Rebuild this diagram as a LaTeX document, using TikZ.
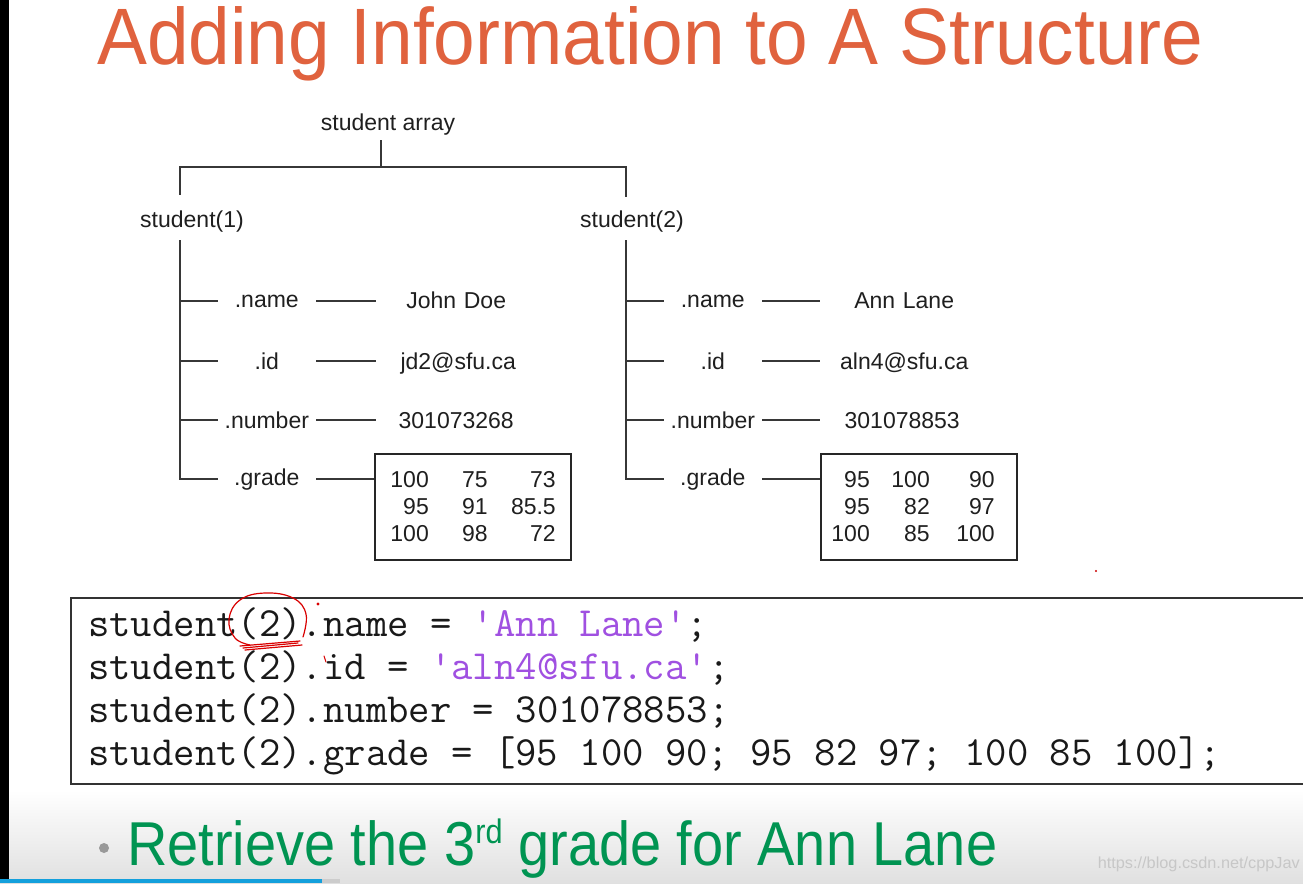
\documentclass[tikz,border=0pt]{standalone}
\usepackage{fontspec}
\setmainfont{Liberation Sans}
\usepackage{graphicx}
\definecolor{titlec}{RGB}{224,98,62}
\definecolor{greenc}{RGB}{0,148,82}
\definecolor{strc}{RGB}{160,80,225}
\definecolor{linec}{RGB}{55,55,55}
\definecolor{blueb}{RGB}{20,160,220}
\begin{document}
\begin{tikzpicture}[x=1pt,y=-1pt,
  treetxt/.style={font=\fontsize{23}{27}\selectfont, inner sep=0pt, text=black!88},
  field/.style={treetxt, anchor=base east, text width=98pt, align=center},
  val/.style={treetxt, anchor=base west, text width=160pt, align=center},
  conn/.style={draw=linec, line width=2pt},
  gbox/.style={treetxt, draw=black!85, line width=1.6pt, minimum height=106pt, anchor=north west, align=left, text width=196pt},
  codeline/.style={anchor=base west, inner sep=0pt, text=black!90, font=\ttfamily\fontsize{41.5}{43}\selectfont},
  redmark/.style={draw=red!85!black, line width=1.2pt, line cap=round}]
\clip (0,0) rectangle (1303,883);
\fill[white] (0,0) rectangle (1303,883);
\shade[top color=white, bottom color=black!12] (0,790) rectangle (1303,883);
\fill[black] (0,0) rectangle (9,883);
\fill[blueb] (0,879) rectangle (322,883);
\fill[black!20] (322,879) rectangle (340,883);

% title
\node[anchor=base west, inner sep=0pt, text=titlec, font=\fontsize{80}{86}\selectfont] (title) at (97,65)
  {\resizebox{1106pt}{\height}{Adding Information to A Structure}};

% tree
\node[treetxt, anchor=base] (sa) at (388,130) {student array};
\node[treetxt, anchor=base] (s1) at (192,227) {student(1)};
\node[treetxt, anchor=base] (s2) at (632,227) {student(2)};
\coordinate (j0) at (381,140);
\coordinate (jm) at (381,167);
\coordinate (jl) at (180,195);
\coordinate (jr) at (626,197);
\draw[conn] (j0) -- (jm) -| (jl);
\draw[conn] (jm) -| (jr);
\coordinate (t1) at (180,240);
\coordinate (t2) at (626,240);

% student 1
\node[field] (fa1) at (316,307) {.name};
\node[field] (fb1) at (316,369) {.id};
\node[field] (fc1) at (316,428) {.number};
\node[field] (fd1) at (316,485) {.grade};
\node[val] (va1) at (376,308) {John Doe};
\node[val] (vb1) at (378,369) {jd2@sfu.ca};
\node[val] (vc1) at (376,428) {301073268};
\node[gbox] (box1) at (374,453) {%
\makebox[54pt][r]{100}\makebox[59pt][r]{75}\makebox[68pt][r]{73}\\
\makebox[54pt][r]{95}\makebox[59pt][r]{91}\makebox[68pt][r]{85.5}\\
\makebox[54pt][r]{100}\makebox[59pt][r]{98}\makebox[68pt][r]{72}};
\draw[conn] (t1) |- (fd1.west);
\foreach \f in {fa1,fb1,fc1} \draw[conn] (\f.west) -- (\f.west -| t1);
\draw[conn] (fa1.east) -- (fa1.east -| va1.west);
\draw[conn] (fb1.east) -- (fb1.east -| va1.west);
\draw[conn] (fc1.east) -- (fc1.east -| va1.west);
\draw[conn] (fd1.east) -- (fd1.east -| box1.west);

% student 2
\node[field] (fa2) at (762,307) {.name};
\node[field] (fb2) at (762,369) {.id};
\node[field] (fc2) at (762,428) {.number};
\node[field] (fd2) at (762,485) {.grade};
\node[val] (va2) at (824,308) {Ann Lane};
\node[val] (vb2) at (824,369) {aln4@sfu.ca};
\node[val] (vc2) at (822,428) {301078853};
\node[gbox] (box2) at (820,453) {%
\makebox[49pt][r]{95}\makebox[60pt][r]{100}\makebox[65pt][r]{90}\\
\makebox[49pt][r]{95}\makebox[60pt][r]{82}\makebox[65pt][r]{97}\\
\makebox[49pt][r]{100}\makebox[60pt][r]{85}\makebox[65pt][r]{100}};
\draw[conn] (t2) |- (fd2.west);
\foreach \f in {fa2,fb2,fc2} \draw[conn] (\f.west) -- (\f.west -| t2);
\draw[conn] (fa2.east) -- (fa2.east -| box2.west);
\draw[conn] (fb2.east) -- (fb2.east -| box2.west);
\draw[conn] (fc2.east) -- (fc2.east -| box2.west);
\draw[conn] (fd2.east) -- (fd2.east -| box2.west);

% code box
\node[draw=black!80, line width=2.4pt, anchor=north west, minimum width=1260pt, minimum height=186pt, inner sep=0pt] (codebox) at (70,597) {};
\node[codeline] (c1) at (88,636) {student(2).name = \textcolor{strc}{\textquotesingle Ann Lane\textquotesingle};};
\node[codeline] (c2) at (88,679) {student(2).id = \textcolor{strc}{\textquotesingle aln4@sfu.ca\textquotesingle};};
\node[codeline] (c3) at (88,722) {student(2).number = 301078853;};
\node[codeline] (c4) at (88,765) {student(2).grade = [95 100 90; 95 82 97; 100 85 100];};

% red pen annotations
\draw[redmark] plot[smooth, tension=0.7] coordinates {(303,637) (306,614) (293,598) (265,593) (240,600) (229,619) (235,638) (250,645)};
\draw[redmark] (240,646) -- (300,641);
\draw[redmark] (245,650) -- (302,645);
\draw[redmark] (243,648) -- (298,643);
\fill[red!85!black] (318,604) circle (1.6);
\draw[redmark, line width=1pt] (324,656) -- (326,662);
\fill[red!80!black] (1096,571) circle (1.2);

% bottom bullet text
\fill[black!40] (104,848) circle (5);
\node[anchor=base west, inner sep=0pt, text=greenc, font=\fontsize{62}{68}\selectfont] (retr) at (127,865)
  {\resizebox{870pt}{\height}{Retrieve the 3\raisebox{22pt}{\fontsize{34}{36}\selectfont rd} grade for Ann Lane}};
\node[anchor=base east, inner sep=0pt, text=black!22, font=\fontsize{16}{18}\selectfont] (wm) at (1300,868)
  {\resizebox{202pt}{\height}{https://blog.csdn.net/cppJav}};
\end{tikzpicture}
\end{document}
